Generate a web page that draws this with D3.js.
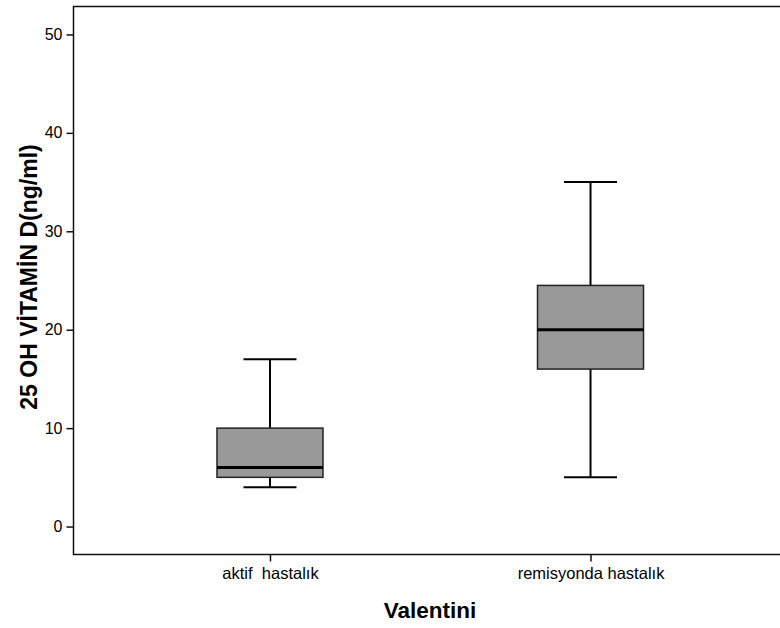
<!DOCTYPE html>
<html>
<head>
<meta charset="utf-8">
<script src="https://cdn.jsdelivr.net/npm/d3@7"></script>
<style>
  body { margin: 0; background: #fff; }
  text { font-family: "Liberation Sans", Arial, sans-serif; fill: #000; }
</style>
</head>
<body>
<div id="chart"></div>
<script>
(function(){
    var width = 780;
    var height = 628;

    // data
    var groups = ["aktif  hastalık", "remisyonda hastalık"];
    var whiskerLow = [4, 5];
    var q1 = [5, 16];
    var median = [6, 20];
    var q3 = [10, 24.5];
    var whiskerHigh = [17, 35];
    var yTicks = [0, 10, 20, 30, 40, 50];

    var boxes = groups.map(function(g, i){
        return {name: g, lo: whiskerLow[i], q1: q1[i], med: median[i], q3: q3[i], hi: whiskerHigh[i]};
    });

    // plot frame runs past the right edge of the picture
    var left = 73.5, right = 787, top = 6.5, bottom = 554.5;

    var svg = d3.select("#chart")
        .append("svg")
        .attr("width", width)
        .attr("height", height);

    var x = d3.scalePoint().domain(groups).range([left, right]).padding(0.613);
    var y = d3.scaleLinear().domain([-2.84, 52.84]).range([bottom, top]);

    // frame
    svg.append("rect")
        .attr("x", left).attr("y", top)
        .attr("width", right - left).attr("height", bottom - top)
        .attr("fill", "none").attr("stroke", "#111").attr("stroke-width", 1.5);

    // y axis
    var yAxis = svg.append("g")
        .attr("transform", "translate(" + left + ",0)")
        .call(d3.axisLeft(y).tickValues(yTicks).tickSize(7).tickPadding(4));
    yAxis.select(".domain").remove();
    yAxis.selectAll("line").attr("stroke", "#111").attr("stroke-width", 1.5);
    yAxis.selectAll("text").style("font-size", "16px").attr("fill", "#000")
        .style("font-family", "Liberation Sans, Arial, sans-serif");

    // x axis
    var xAxis = svg.append("g")
        .attr("transform", "translate(0," + bottom + ")")
        .call(d3.axisBottom(x).tickSize(7).tickPadding(6));
    xAxis.select(".domain").remove();
    xAxis.selectAll("line").attr("stroke", "#111").attr("stroke-width", 1.5);
    xAxis.selectAll("text").style("font-size", "16.5px").attr("fill", "#000")
        .style("font-family", "Liberation Sans, Arial, sans-serif")
        .style("white-space", "pre").attr("xml:space", "preserve");

    var boxW = 106;
    var capW = 53;

    var g = svg.selectAll(".box")
        .data(boxes)
        .enter().append("g")
        .attr("class", "box")
        .attr("transform", function(d){ return "translate(" + x(d.name) + ",0)"; });

    // whiskers
    g.append("line")
        .attr("x1", 0).attr("x2", 0)
        .attr("y1", function(d){ return y(d.hi); })
        .attr("y2", function(d){ return y(d.q3); })
        .attr("stroke", "#000").attr("stroke-width", 2);
    g.append("line")
        .attr("x1", 0).attr("x2", 0)
        .attr("y1", function(d){ return y(d.q1); })
        .attr("y2", function(d){ return y(d.lo); })
        .attr("stroke", "#000").attr("stroke-width", 2);
    g.append("line")
        .attr("x1", -capW / 2).attr("x2", capW / 2)
        .attr("y1", function(d){ return y(d.hi); })
        .attr("y2", function(d){ return y(d.hi); })
        .attr("stroke", "#000").attr("stroke-width", 2);
    g.append("line")
        .attr("x1", -capW / 2).attr("x2", capW / 2)
        .attr("y1", function(d){ return y(d.lo); })
        .attr("y2", function(d){ return y(d.lo); })
        .attr("stroke", "#000").attr("stroke-width", 2);

    // box
    g.append("rect")
        .attr("x", -boxW / 2)
        .attr("width", boxW)
        .attr("y", function(d){ return y(d.q3); })
        .attr("height", function(d){ return y(d.q1) - y(d.q3); })
        .attr("fill", "#999999")
        .attr("stroke", "#222").attr("stroke-width", 1.5);

    // median
    g.append("line")
        .attr("x1", -boxW / 2).attr("x2", boxW / 2)
        .attr("y1", function(d){ return y(d.med); })
        .attr("y2", function(d){ return y(d.med); })
        .attr("stroke", "#000").attr("stroke-width", 3);

    // axis titles
    svg.append("text")
        .attr("x", 430)
        .attr("y", 618)
        .attr("text-anchor", "middle")
        .style("font-size", "22.5px")
        .style("font-weight", "bold")
        .text("Valentini");

    svg.append("text")
        .attr("transform", "translate(37," + 277 + ") rotate(-90)")
        .attr("text-anchor", "middle")
        .style("font-size", "23px")
        .style("font-weight", "bold")
        .text("25 OH VİTAMİN D(ng/ml)");
})();
</script>
</body>
</html>
